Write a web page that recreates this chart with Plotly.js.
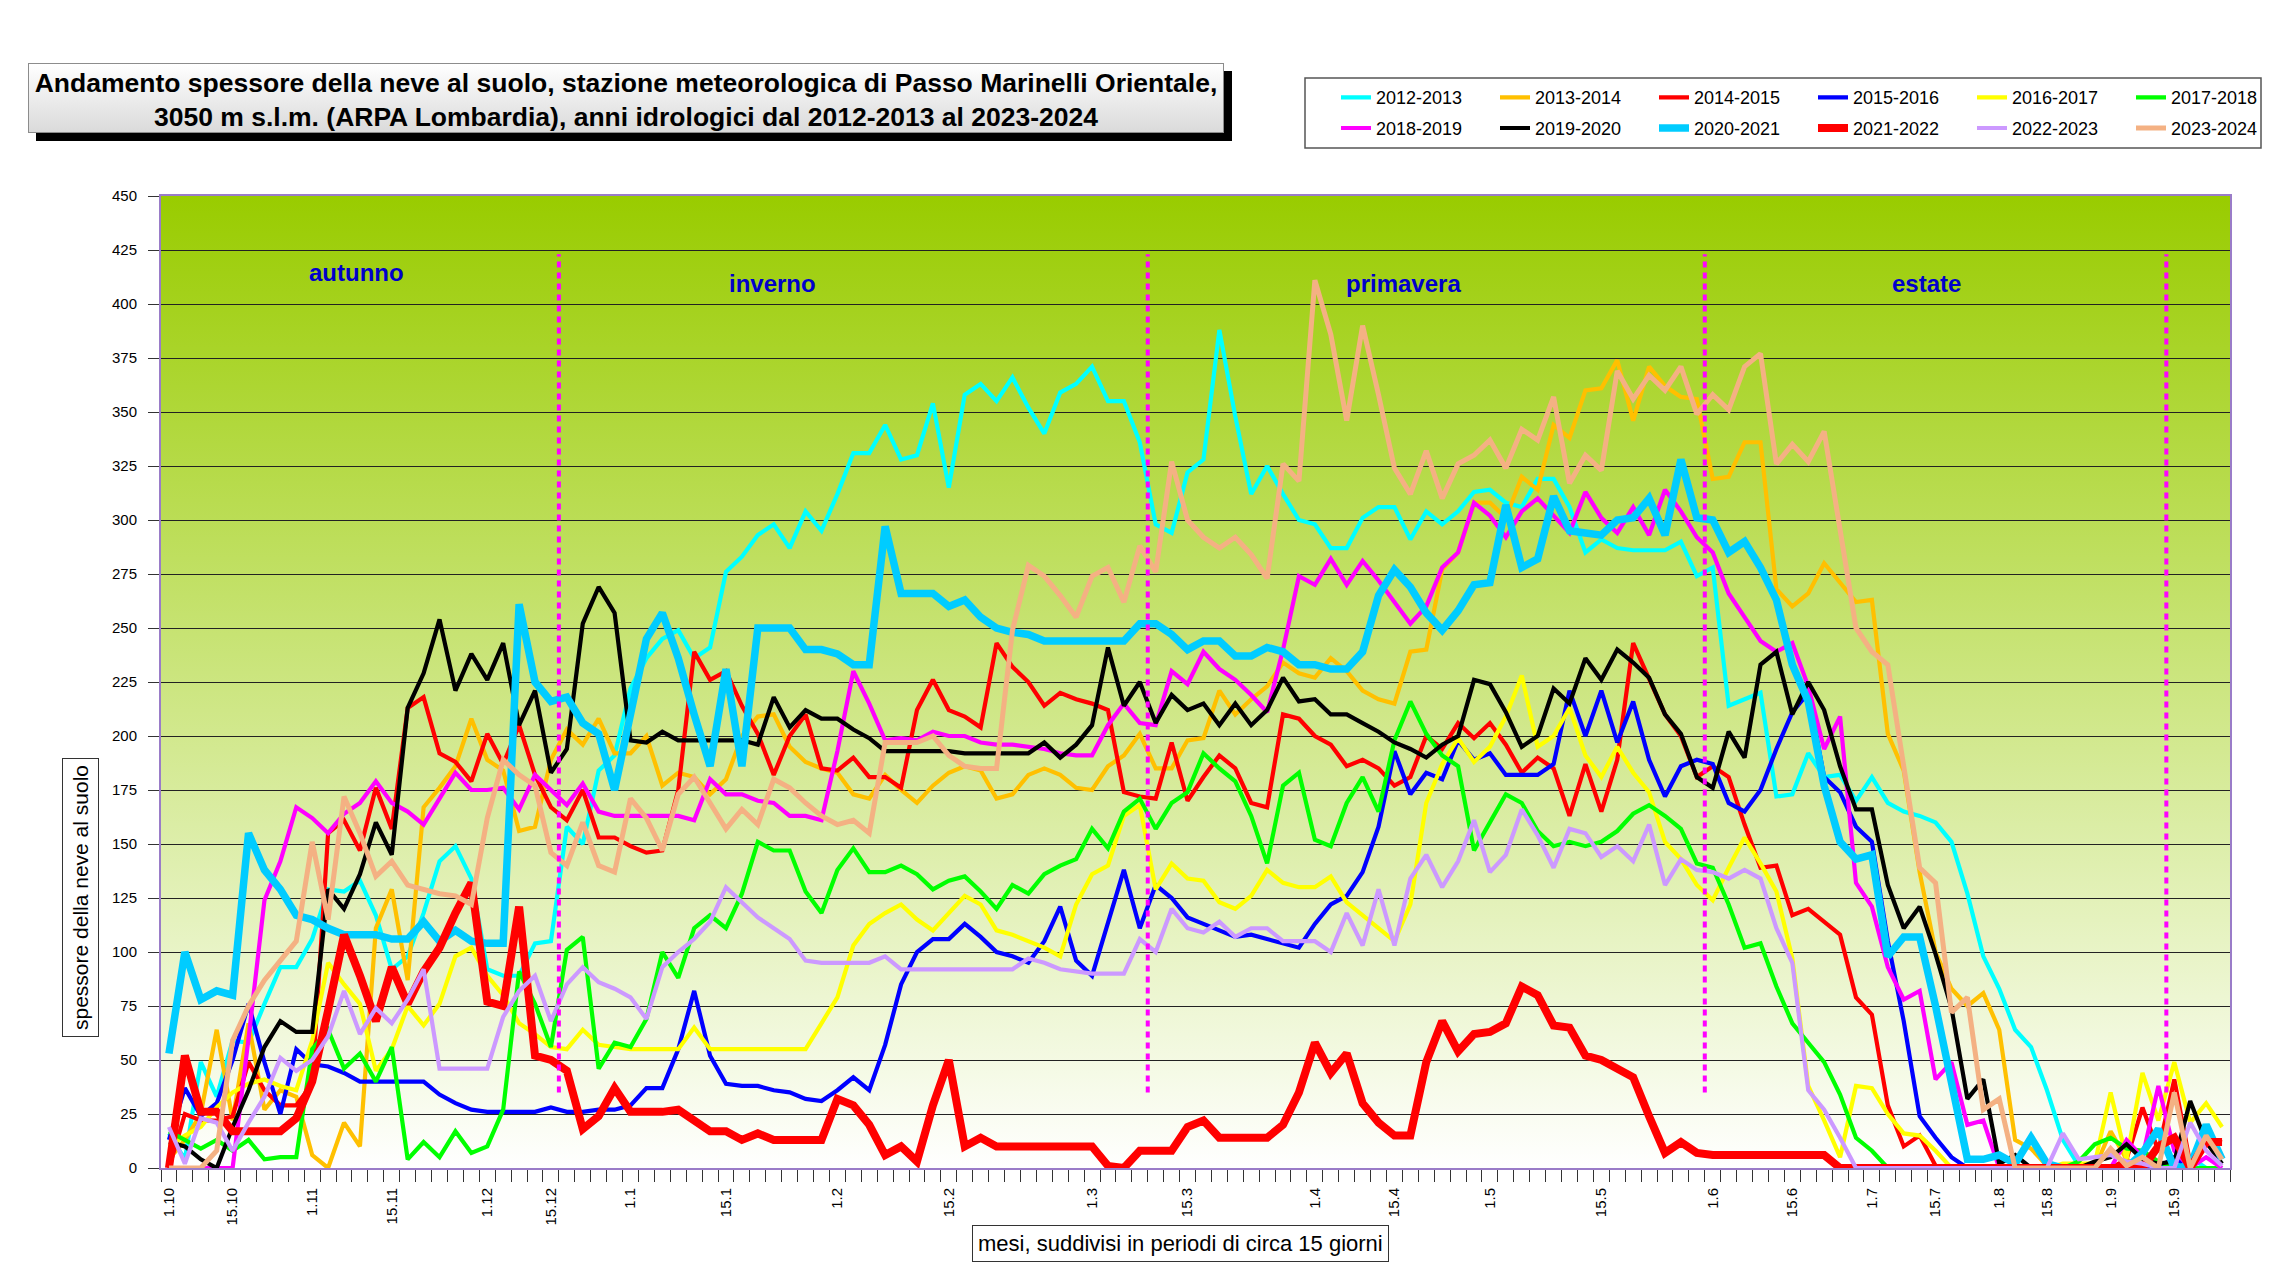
<!DOCTYPE html>
<html>
<head>
<meta charset="utf-8">
<script src="https://cdn.plot.ly/plotly-3.0.1.min.js"></script>
<style>
html,body{margin:0;padding:0;background:#ffffff;}
#chart{width:2295px;height:1286px;}
</style>
</head>
<body>
<div id="chart"></div>
<script>
// ---------- categories / tick labels ----------
const nPoints = 130; // one category per observation (about 2-3 days apart)
const tickIdx = [0,4,9,14,20,24,29,35,42,49,58,64,72,77,83,90,97,102,107,111,115,118,122,126];
const tickLabels = ['1.10','15.10','1.11','15.11','1.12','15.12','1.1','15.1','1.2','15.2','1.3','15.3','1.4','15.4','1.5','15.5','1.6','15.6','1.7','15.7','1.8','15.8','1.9','15.9'];
const seasonNames = ['autunno','inverno','primavera','estate'];
const seasonLabelX = [11.8, 37.9, 77.6, 110.4];
const seasonLabelY = [414.5, 409.5, 409.5, 409.5];
const seasonBreaks = [24.5, 61.5, 96.5, 125.5];
const seriesNames = ['2012-2013','2013-2014','2014-2015','2015-2016','2016-2017','2017-2018','2018-2019','2019-2020','2020-2021','2021-2022','2022-2023','2023-2024'];

// ---------- series values (snow depth, cm) ----------
const s2012_2013 = [16,4,49,33,59,58,76,93,93,106,
129,128,133,117,92,98,118,142,149,134,
92,89,89,104,105,158,150,184,191,222,
236,245,249,236,241,276,283,293,298,287,
304,295,312,331,331,344,328,330,354,315,
358,363,355,366,352,340,359,363,371,355,
355,336,298,294,322,328,388,348,312,325,
312,300,298,287,287,301,306,306,291,304,
298,304,313,314,308,306,319,319,306,285,
291,287,286,286,286,290,274,278,214,217,
220,172,173,192,181,182,170,181,169,165,
163,160,151,127,98,83,64,56,36,13,
1,0,0,0,0,0,0,5,0,0];
const s2013_2014 = [4,13,25,64,22,67,27,36,33,6,
0,21,10,111,129,87,167,176,186,208,
189,184,156,158,189,203,196,208,192,192,
200,177,183,181,173,180,200,209,210,195,
188,185,183,173,171,182,175,169,177,183,
186,184,171,173,182,185,182,176,175,186,
191,201,185,185,198,199,221,210,217,223,
234,229,227,236,230,221,217,215,239,240,
277,285,308,308,301,320,314,344,338,360,
361,374,346,371,362,357,356,319,320,336,
336,268,260,266,280,271,262,263,201,184,
137,100,83,75,81,64,13,9,1,0,
0,0,17,4,0,0,5,0,0,0];
const s2014_2015 = [0,25,22,22,24,49,36,29,29,39,
155,161,147,176,157,213,218,192,188,179,
201,187,205,182,167,161,175,153,153,149,
146,147,175,239,226,230,214,201,182,200,
210,185,184,190,181,181,176,212,226,212,
209,204,243,232,225,214,220,217,215,212,
174,172,171,197,170,181,191,185,169,167,
210,208,200,196,186,189,185,177,181,200,
194,206,199,206,196,183,190,185,163,187,
165,189,243,226,210,200,181,186,181,159,
139,140,117,120,114,108,79,71,29,10,
15,1,0,0,0,0,0,0,0,0,
0,0,0,4,28,8,41,2,13,12];
const s2015_2016 = [13,37,24,30,50,76,49,25,55,48,
47,44,40,40,40,40,40,34,30,27,
26,26,26,26,28,26,26,27,27,29,
37,37,55,82,52,39,38,38,36,35,
32,31,36,42,36,57,85,100,106,106,
113,107,100,98,95,105,121,96,89,113,
138,111,131,125,116,113,110,107,108,106,
104,102,113,122,126,137,158,193,173,183,
180,198,189,192,182,182,182,187,221,200,
221,197,216,189,172,186,189,187,169,165,
175,194,211,220,181,174,158,151,105,68,
24,14,5,0,0,0,0,0,0,0,
0,0,0,0,0,0,5,0,0,0];
const s2016_2017 = [10,15,19,28,35,39,41,38,36,59,
95,85,76,45,55,75,66,76,98,102,
89,80,67,62,56,55,64,57,56,55,
55,55,55,65,55,55,55,55,55,55,
55,67,79,103,113,118,122,115,110,118,
126,122,110,108,105,102,98,122,136,140,
163,168,129,141,134,133,123,120,126,138,
132,130,130,135,123,117,111,105,122,169,
187,199,188,195,209,228,195,200,213,191,
181,195,183,174,151,143,131,124,139,153,
141,128,97,38,22,5,38,37,25,16,
15,8,0,0,0,0,0,0,0,2,
2,2,35,4,44,22,49,21,30,19];
const s2017_2018 = [17,13,9,13,8,13,4,5,5,55,
64,46,53,40,56,4,12,5,17,7,
10,27,91,76,56,101,107,46,58,56,
69,100,88,111,117,111,127,151,147,147,
128,118,138,148,137,137,140,136,129,133,
135,128,120,131,127,136,140,143,157,148,
165,171,157,169,174,192,185,179,163,141,
177,183,152,149,169,181,165,198,216,201,
191,186,147,160,173,169,156,149,151,149,
151,156,164,168,163,157,141,139,122,102,
104,84,67,58,49,34,14,8,0,0,
0,0,0,0,0,0,0,0,0,0,
3,11,14,9,8,3,0,0,0,0];
const s2018_2019 = [0,0,0,0,0,60,124,142,167,162,
155,164,169,179,169,165,159,171,183,175,
175,176,166,182,175,168,178,165,163,163,
163,163,163,161,180,173,173,170,169,163,
163,161,193,230,215,198,199,198,202,200,
200,197,196,196,195,194,192,191,191,205,
215,206,205,230,224,239,231,226,219,211,
240,274,270,282,270,281,272,262,252,260,
278,285,308,302,292,304,310,302,294,313,
301,294,306,293,314,304,292,285,266,255,
244,239,243,223,194,209,132,121,93,78,
82,41,49,20,22,0,0,0,0,0,
0,0,0,13,5,38,8,0,5,0];
const s2019_2020 = [12,10,4,0,19,36,56,68,63,63,
129,120,136,160,145,213,229,254,221,238,
226,243,205,221,183,194,252,269,257,198,
197,202,198,198,198,198,198,196,218,204,
212,208,208,203,199,193,193,193,193,193,
192,192,192,192,192,197,190,196,205,241,
214,225,206,219,212,215,205,215,205,212,
227,216,217,210,210,206,202,197,194,190,
196,200,226,224,211,195,200,222,215,236,
226,240,234,227,210,201,181,176,202,190,
233,239,210,225,212,186,166,166,131,111,
121,99,74,32,41,2,6,0,0,0,
0,3,5,11,4,2,3,31,12,2];
const s2020_2021 = [53,100,78,82,80,155,138,129,117,115,
111,108,108,108,106,106,114,105,110,105,
104,104,261,225,216,218,206,201,175,209,
245,257,236,210,186,231,186,250,250,250,
240,240,238,233,233,297,266,266,266,260,
263,255,250,248,247,244,244,244,244,244,
244,252,252,247,240,244,244,237,237,241,
239,233,233,231,231,239,265,277,269,257,
249,258,270,271,307,278,282,311,295,294,
293,300,301,310,293,328,301,300,285,290,
278,263,233,216,177,151,143,145,98,107,
107,75,38,4,4,6,2,14,2,0,
0,0,0,0,7,18,0,1,20,4];
const s2021_2022 = [0,52,26,26,17,17,17,17,23,40,
73,108,89,68,93,76,91,102,118,132,
77,75,121,52,50,45,18,24,37,26,
26,26,27,22,17,17,13,16,13,13,
13,13,32,29,20,6,10,3,29,50,
10,14,10,10,10,10,10,10,10,1,
0,8,8,8,19,22,14,14,14,14,
20,35,58,44,53,30,21,15,15,49,
68,54,62,63,67,84,80,66,65,52,
50,46,42,24,7,12,7,6,6,6,
6,6,6,6,6,0,0,0,0,0,
0,0,0,0,0,0,0,0,0,0,
0,0,0,0,0,10,14,0,12,12];
const s2022_2023 = [19,2,23,21,8,21,33,51,45,50,
61,82,62,74,67,78,92,46,46,46,
46,70,82,89,68,85,93,86,83,79,
69,93,100,106,114,130,123,116,111,106,
96,95,95,95,95,98,92,92,92,92,
92,92,92,92,97,95,92,91,90,90,
90,106,100,120,111,109,114,107,111,111,
105,105,105,100,118,103,129,103,134,145,
130,142,161,137,145,166,154,139,157,155,
144,149,142,159,131,143,138,137,134,138,
134,111,95,36,27,14,0,0,0,0,
0,0,0,0,0,0,0,0,0,16,
4,5,6,3,2,0,0,21,8,1];
const s2023_2024 = [0,0,0,8,59,75,87,96,105,151,
115,172,155,135,142,131,129,127,126,122,
162,189,182,177,146,140,160,140,137,171,
162,147,173,181,169,157,166,159,180,176,
169,163,159,161,155,197,197,197,200,191,
186,185,185,249,279,274,265,255,274,278,
262,288,276,327,300,292,287,292,284,273,
326,318,411,386,346,390,358,324,312,332,
310,326,330,337,324,342,337,357,317,330,
323,369,356,367,360,371,349,358,351,371,
377,326,335,327,341,297,250,239,233,186,
139,132,72,79,27,32,0,0,0,0,
0,0,9,1,5,0,35,0,15,4];

// ---------- styling ----------
const FONT = 'Liberation Sans, Arial, Helvetica, sans-serif';
const seriesValues = [s2012_2013,s2013_2014,s2014_2015,s2015_2016,s2016_2017,s2017_2018,
                      s2018_2019,s2019_2020,s2020_2021,s2021_2022,s2022_2023,s2023_2024];
const seriesColors = ['#00ffff','#ffc000','#ff0000','#0000ff','#ffff00','#00ff00',
                      '#ff00ff','#000000','#00ccff','#ff0000','#cc99ff','#f4b183'];
const seriesWidths = [4.2,4.2,4.2,4.2,4.2,4.2,4.2,4.2,7.5,8,4.2,5];

const xIdx = Array.from({length: nPoints}, (_, i) => i);

const traces = seriesValues.map((vals, k) => ({
  type: 'scatter',
  mode: 'lines',
  name: seriesNames[k],
  x: xIdx,
  y: vals,
  line: {color: seriesColors[k], width: seriesWidths[k]},
  legend: k < 6 ? 'legend' : 'legend2',
  hoverinfo: 'skip'
}));

// plot-area gradient (green -> white)
const gradSvg = "<svg xmlns='http://www.w3.org/2000/svg' width='200' height='200' viewBox='0 0 200 200' preserveAspectRatio='none'>" +
  "<defs><linearGradient id='g' x1='0' y1='0' x2='0' y2='1'><stop offset='0' stop-color='#99cc00'/><stop offset='1' stop-color='#ffffff'/></linearGradient></defs>" +
  "<rect x='0' y='0' width='200' height='200' fill='url(#g)'/></svg>";
// title box with drop shadow
const titleSvg = "<svg xmlns='http://www.w3.org/2000/svg' width='1204' height='78' viewBox='0 0 1204 78' preserveAspectRatio='none'>" +
  "<defs><linearGradient id='t' x1='0' y1='0' x2='0' y2='1'><stop offset='0' stop-color='#ffffff'/><stop offset='1' stop-color='#dadada'/></linearGradient></defs>" +
  "<rect x='8' y='8' width='1196' height='70' fill='#000000'/>" +
  "<rect x='0.5' y='0.5' width='1195' height='69' fill='url(#t)' stroke='#8c8c8c' stroke-width='1'/></svg>";
const toUri = s => 'data:image/svg+xml;charset=utf-8,' + encodeURIComponent(s);

// pixel helpers (plot area: x 161..2230, y 196..1168)
const PL = 161, PW = 2069, PB = 1168, PH = 972;
const px = v => (v - PL) / PW;
const py = v => (PB - v) / PH;

const shapes = seasonBreaks.map(xb => ({
  type: 'line', xref: 'x', yref: 'y', x0: xb, x1: xb, y0: 35, y1: 423,
  line: {color: '#ff00ff', width: 4, dash: '6px,5px'}, layer: 'above'
}));
shapes.push({
  type: 'rect', xref: 'paper', yref: 'paper',
  x0: px(1305), x1: px(2261), y0: py(148), y1: py(78),
  line: {color: '#555555', width: 1.5}, fillcolor: '#ffffff', layer: 'below'
});

const annotations = seasonNames.map((t, k) => ({
  text: '<b>' + t + '</b>', xref: 'x', yref: 'y', x: seasonLabelX[k], y: seasonLabelY[k],
  xanchor: 'center', yanchor: 'middle',
  showarrow: false, font: {family: FONT, size: 24, color: '#0000cc'}
}));
annotations.push({
  text: 'spessore della neve al suolo', xref: 'paper', yref: 'paper',
  x: px(80), y: py(898), xanchor: 'center', yanchor: 'middle', textangle: -90, showarrow: false,
  font: {family: FONT, size: 21, color: '#000'},
  bordercolor: '#333', borderwidth: 1, borderpad: 6, bgcolor: '#ffffff'
});
annotations.push({
  text: 'mesi, suddivisi in periodi di circa 15 giorni', xref: 'paper', yref: 'paper',
  x: px(1180), y: py(1243), xanchor: 'center', yanchor: 'middle', showarrow: false,
  font: {family: FONT, size: 22, color: '#000'},
  bordercolor: '#333', borderwidth: 1, borderpad: 5, bgcolor: '#ffffff'
});

const legendBase = {
  orientation: 'h', xanchor: 'left', yanchor: 'middle',
  x: px(1336), entrywidth: 114, entrywidthmode: 'pixels',
  font: {family: FONT, size: 18, color: '#000'},
  bgcolor: 'rgba(0,0,0,0)', borderwidth: 0, traceorder: 'normal'
};

const layout = {
  width: 2295, height: 1286,
  margin: {l: PL, r: 2295 - 2230, t: 196, b: 1286 - PB, autoexpand: false},
  paper_bgcolor: '#ffffff', plot_bgcolor: 'rgba(0,0,0,0)',
  font: {family: FONT, color: '#000'},
  title: {
    text: '<b>Andamento spessore della neve al suolo, stazione meteorologica di Passo Marinelli Orientale,<br>3050 m s.l.m. (ARPA Lombardia), anni idrologici dal 2012-2013 al 2023-2024</b>',
    xref: 'container', yref: 'container', x: 626 / 2295, xanchor: 'center',
    y: 1 - 91.5 / 1286, yanchor: 'middle',
    font: {family: FONT, size: 26.5, color: '#000'}
  },
  showlegend: true,
  legend: Object.assign({}, legendBase, {y: py(97.7)}),
  legend2: Object.assign({}, legendBase, {y: py(128.3)}),
  xaxis: {
    range: [-0.5, nPoints - 0.5], tickmode: 'array', tickvals: tickIdx, ticktext: tickLabels,
    tickangle: -90, ticks: 'outside', ticklen: 12, tickcolor: 'rgba(0,0,0,0)',
    tickfont: {family: FONT, size: 15, color: '#000'},
    showgrid: false, zeroline: false, showline: true, mirror: true,
    linecolor: '#9a7cc8', linewidth: 2, fixedrange: true,
    minor: {tickmode: 'linear', tick0: -0.5, dtick: 1, ticks: 'outside', ticklen: 12,
            tickcolor: '#333333', tickwidth: 1, showgrid: false}
  },
  yaxis: {
    range: [0, 450], tickmode: 'linear', tick0: 0, dtick: 25,
    ticks: 'outside', ticklen: 11, tickcolor: '#333333', tickwidth: 1,
    tickfont: {family: FONT, size: 15, color: '#000'}, ticklabelstandoff: 8,
    showgrid: true, gridcolor: '#222222', gridwidth: 1,
    zeroline: false, showline: true, mirror: true, linecolor: '#9a7cc8', linewidth: 2,
    fixedrange: true
  },
  images: [
    {source: toUri(gradSvg), xref: 'paper', yref: 'paper', x: 0, y: 1, sizex: 1, sizey: 1,
     xanchor: 'left', yanchor: 'top', sizing: 'stretch', layer: 'below'},
    {source: toUri(titleSvg), xref: 'paper', yref: 'paper', x: px(28), y: py(63),
     sizex: 1204 / PW, sizey: 78 / PH, xanchor: 'left', yanchor: 'top', sizing: 'stretch', layer: 'below'}
  ],
  shapes: shapes,
  annotations: annotations
};

Plotly.newPlot('chart', traces, layout, {displayModeBar: false, staticPlot: true});
</script>
</body>
</html>
